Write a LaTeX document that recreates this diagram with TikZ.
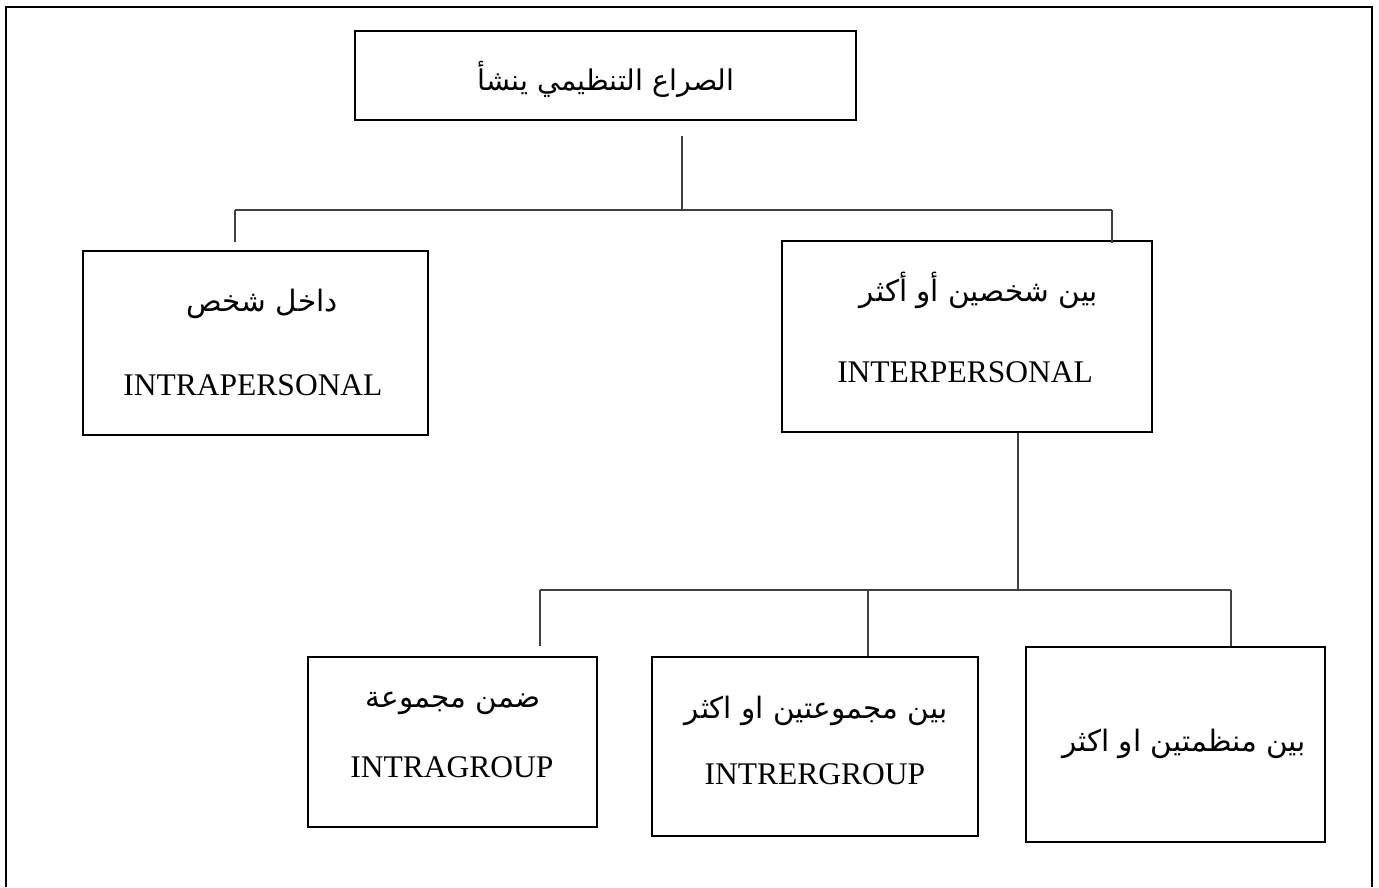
\documentclass[tikz,border=0pt]{standalone}
\usepackage{fontspec}
\setmainfont{Liberation Serif}
\newfontfamily\arabicfont[Script=Arabic]{DejaVu Sans}
\TeXXeTstate=1
\newcommand{\ar}[1]{{\arabicfont\beginR #1\endR}}
\tikzset{
  frame/.style={line width=2.6pt, draw=black},
  box/.style={draw=black, line width=2.4pt, rectangle, inner sep=0pt},
  link/.style={draw=black!75, line width=1.2pt},
  artext/.style={inner sep=0pt, font=\fontsize{29.5}{34}\selectfont},
  latext/.style={inner sep=0pt, font=\fontsize{31.5}{36}\selectfont},
}
\begin{document}
\begin{tikzpicture}[x=1pt, y=-1pt]
  \useasboundingbox (0,0) rectangle (1379,887);
  % open frame round the chart
  \draw[frame] (6,887) -- (6,7) -- (1372,7) -- (1372,887);

  % boxes
  \node[box, minimum width=501pt, minimum height=89pt] (root) at (605.5,75.5) {};
  \node[box, minimum width=345pt, minimum height=184pt] (intra) at (255.5,343) {};
  \node[box, minimum width=370pt, minimum height=191pt] (inter) at (967,336.5) {};
  \node[box, minimum width=289pt, minimum height=170pt] (intrag) at (452.5,742) {};
  \node[box, minimum width=326pt, minimum height=179pt] (interg) at (815,746.5) {};
  \node[box, minimum width=299pt, minimum height=195pt] (orgs) at (1175.5,744.5) {};

  % labels
  \node[artext, font=\fontsize{28.5}{32}\selectfont] (rootA) at (606,79) {\ar{الصراع التنظيمي ينشأ}};
  \node[artext] (intraA) at (262,304) {\ar{داخل شخص}};
  \node[latext] (intraL) at (253,385) {INTRAPERSONAL};
  \node[artext] (interA) at (979,290) {\ar{بين شخصين أو أكثر}};
  \node[latext] (interL) at (965,372) {INTERPERSONAL};
  \node[artext] (intragA) at (453,703) {\ar{ضمن مجموعة}};
  \node[latext] (intragL) at (452,767) {INTRAGROUP};
  \node[artext] (intergA) at (816,711) {\ar{بين مجموعتين او اكثر}};
  \node[latext] (intergL) at (815,774) {INTRERGROUP};
  \node[artext] (orgsA) at (1184,744) {\ar{بين منظمتين او اكثر}};

  % first level of connectors
  \coordinate (j1) at (682,210);
  \coordinate (b1L) at (235,210);
  \coordinate (b1R) at (1112,210);
  \draw[link] ([yshift=-15pt]root.south -| j1) -- (j1);
  \draw[link] (b1L) -- (b1R);
  \draw[link] (b1L) -- ([yshift=8pt]intra.north -| b1L);
  \draw[link] (b1R) -- ([yshift=-3pt]inter.north -| b1R);

  % second level of connectors
  \coordinate (j2) at (1018,590);
  \coordinate (b2L) at (540,590);
  \coordinate (b2M) at (868,590);
  \coordinate (b2R) at (1231,590);
  \draw[link] (inter.south -| j2) -- (j2);
  \draw[link] (b2L) -- (b2R);
  \draw[link] (b2L) -- ([yshift=10pt]intrag.north -| b2L);
  \draw[link] (b2M) -- (interg.north -| b2M);
  \draw[link] (b2R) -- (orgs.north -| b2R);
\end{tikzpicture}
\end{document}
